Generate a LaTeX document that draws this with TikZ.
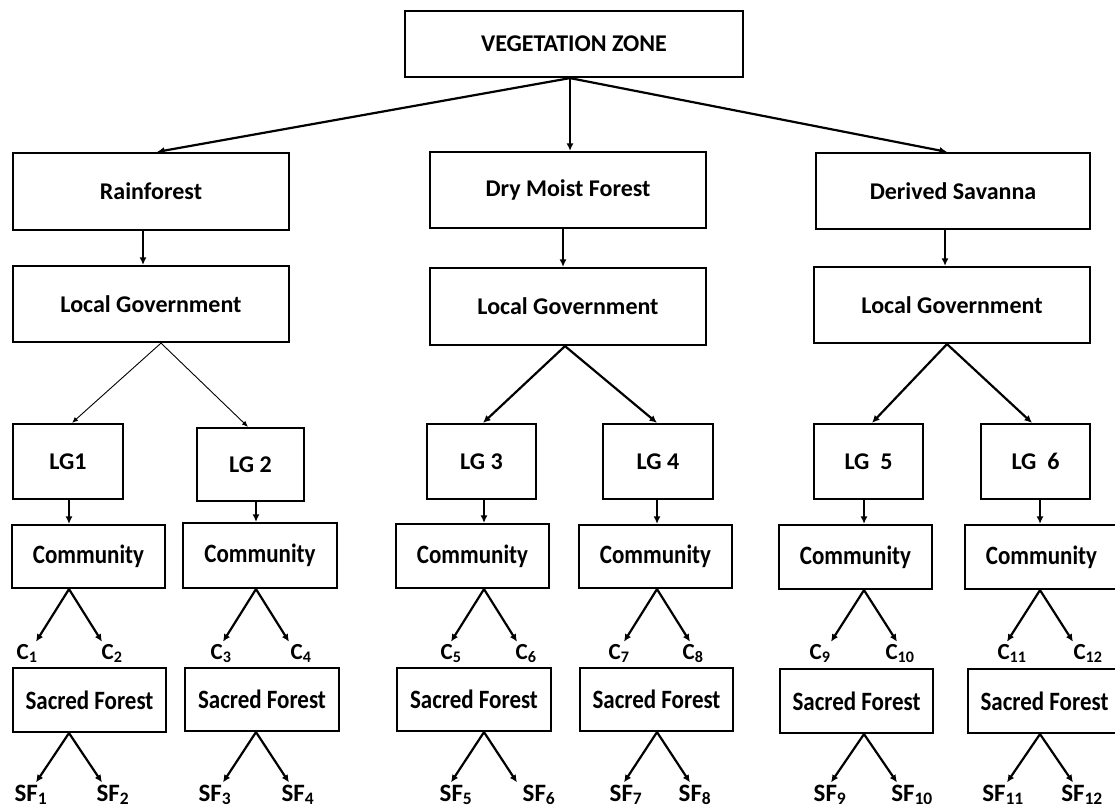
\documentclass[tikz,border=0pt]{standalone}
\usepackage{fontspec}
\setmainfont{Carlito}
\usetikzlibrary{arrows.meta}
\newcommand{\tallt}[1]{\scalebox{1}[1.15]{#1}}
\begin{document}
\begin{tikzpicture}[x=1pt,y=-1pt,
  box/.style={draw, line width=2.2pt, inner sep=0pt, align=center,
    font=\bfseries\fontsize{24}{27}\selectfont},
  sbox/.style={draw, line width=2.2pt, inner sep=0pt, align=center,
    font=\bfseries\fontsize{23}{26}\selectfont},
  wh/.style 2 args={minimum width=#1pt, minimum height=#2pt},
  arr/.style={line width=2.2pt, -{Latex[length=7.5pt,width=7pt]}},
  thinarr/.style={line width=0.9pt, -{Latex[length=6pt,width=5pt]}},
  clab/.style={inner sep=2pt, anchor=base, font=\bfseries\fontsize{23}{26}\selectfont},
  sflab/.style={inner sep=2pt, anchor=base, font=\bfseries\fontsize{25}{28}\selectfont}
]
\useasboundingbox (0,0) rectangle (1115,808);

% top level
\node[box, wh={338}{66}] (vz) at (574,44) {VEGETATION ZONE};
\node[box, wh={276}{77}] (rf) at (151,191.5) {Rainforest};
\node[box, wh={276}{76}] (dm) at (568,190) {Dry Moist Forest};
\node[box, wh={274}{76}] (ds) at (953,191) {Derived Savanna};
\node[box, wh={276}{76}] (lga) at (151,304) {Local Government};
\node[box, wh={276}{77}] (lgb) at (568,306.5) {Local Government};
\node[box, wh={276}{76}] (lgc) at (952,305) {Local Government};

\draw[arr] (vz.south -| 570,0) -- (rf.north -| 157,0);
\draw[arr] (vz.south -| 570,0) -- (dm.north -| 570,0);
\draw[arr] (vz.south -| 570,0) -- (ds.north -| 947,0);

\draw[arr] (rf.south -| 143,0) -- (lga.north -| 143,0);
\draw[arr] (dm.south -| 563,0) -- (lgb.north -| 563,0);
\draw[arr] (ds.south -| 945,0) -- (lgc.north -| 945,0);

% groups
\foreach \i/\gx/\gy/\gw/\gh/\gt/\cx/\cy/\cw/\ch/\fx/\fy/\fw/\fh/\s/\la/\lb/\sa/\sb in {
  1/68/461.5/110/75/LG1/88.5/556.5/153/63/89.5/700/153/64/69/27/112/31/113,
  2/250.5/464.5/107/73/LG 2/260/555.5/154/65/262/699.5/154/63/256/221/301/215/298,
  3/481.5/461.5/109/75/LG 3/472.5/556/153/64/474/699.5/154/63/484/451/526/456/539,
  4/658/461.5/110/75/LG 4/655.5/556.5/153/63/656.5/699.5/153/63/657/619/693/626/695,
  5/868.5/461.5/109/75/LG\ \ 5/855.5/557/153/64/856.5/701/153/64/864/820/900/830/912,
  6/1035.5/461.5/109/75/LG\ \ 6/1041.5/557/153/64/1044.5/701/153/64/1040/1012/1088/1003/1082}{
  \pgfmathtruncatemacro{\na}{2*\i-1}
  \pgfmathtruncatemacro{\nb}{2*\i}
  \node[box, wh={\gw}{\gh}] (g\i) at (\gx,\gy) {\gt};
  \node[sbox, wh={\cw}{\ch}] (cm\i) at (\cx,\cy) {\tallt{Community}};
  \node[sbox, wh={\fw}{\fh}] (sf\i) at (\fx,\fy) {\tallt{Sacred Forest}};
  \node[clab] (ca\i) at (\la,659) {C\textsubscript{\na}};
  \node[clab] (cb\i) at (\lb,659) {C\textsubscript{\nb}};
  \node[sflab] (fa\i) at (\sa,801) {SF\textsubscript{\na}};
  \node[sflab] (fb\i) at (\sb,801) {SF\textsubscript{\nb}};
  \draw[arr] (g\i.south -| \s,0) -- (cm\i.north -| \s,0);
  \draw[arr] (cm\i.south -| \s,0) -- (ca\i.north -| \s-33,0);
  \draw[arr] (cm\i.south -| \s,0) -- (cb\i.north -| \s+33,0);
  \draw[arr] (sf\i.south -| \s,0) -- (fa\i.north -| \s-33,0);
  \draw[arr] (sf\i.south -| \s,0) -- (fb\i.north -| \s+33,0);
}

\draw[thinarr] (lga.south -| 161,0) -- (g1.north -| 72,0);
\draw[thinarr] (lga.south -| 161,0) -- (g2.north -| 248,0);
\draw[arr] (lgb.south -| 565,0) -- (g3.north -| 483,0);
\draw[arr] (lgb.south -| 565,0) -- (g4.north -| 657,0);
\draw[arr] (lgc.south -| 947,0) -- (g5.north -| 872,0);
\draw[arr] (lgc.south -| 947,0) -- (g6.north -| 1032,0);
\end{tikzpicture}
\end{document}
